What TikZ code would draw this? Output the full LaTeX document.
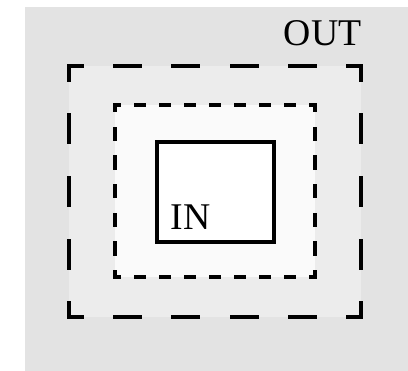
\documentclass[tikz,border=0pt]{standalone}
\usepackage{fontspec}
\setmainfont{Liberation Serif}
\usetikzlibrary{positioning}
\definecolor{bggray}{HTML}{E3E3E3}
\definecolor{outerfill}{HTML}{ECECEC}
\definecolor{midfill}{HTML}{FAFAFA}
\tikzset{
    zone/.style={rectangle,inner sep=0pt,outer sep=0pt},
    sideline/.style={draw=black,line width=2.5pt,line cap=rect},
    innerbox/.style={zone,draw=black,fill=white,line width=2.5pt,
      minimum width=87.75pt,minimum height=75pt},
    zonetext/.style={inner sep=0pt,outer sep=0pt,text=black,
      font=\fontsize{28.3}{34}\selectfont}
}

\begin{document}
\begin{tikzpicture}[x=0.75pt,y=-0.75pt]
  \useasboundingbox (0,0) rectangle (408,371);
  \fill[bggray] (25,7) rectangle (408,371);
  % nested zones
  \node[zone,fill=outerfill,minimum width=219pt,minimum height=188.25pt] (out) at (215,191.5) {};
  \node[zone,fill=midfill,minimum width=150pt,minimum height=129pt] (mid) at (215,191) {};
  \node[innerbox] (in) at (215.5,192) {};
  % dashed sides, each fitted to its own length
  \foreach \a/\b/\dl/\gl/\ph in {%
      out.north west/out.north east/19.4/24.4/9.7,
      out.south west/out.south east/19.4/24.4/9.7,
      out.north west/out.south west/21.03/26.03/10.515,
      out.north east/out.south east/21.03/26.03/10.515,
      mid.north west/mid.north east/6.875/11.875/3.44,
      mid.south west/mid.south east/6.875/11.875/3.44,
      mid.north west/mid.south west/8.25/13.25/4.125,
      mid.north east/mid.south east/8.25/13.25/4.125} {
    \draw[sideline,dash pattern=on \dl pt off \gl pt,dash phase=\ph pt] (\a) -- (\b);
  }
  \node[zonetext,anchor=base east] (outlabel) at (361.5,45.5) {OUT};
  \node[zonetext,anchor=base west] (inlabel) at (170.5,229) {IN};
\end{tikzpicture}
\end{document}
